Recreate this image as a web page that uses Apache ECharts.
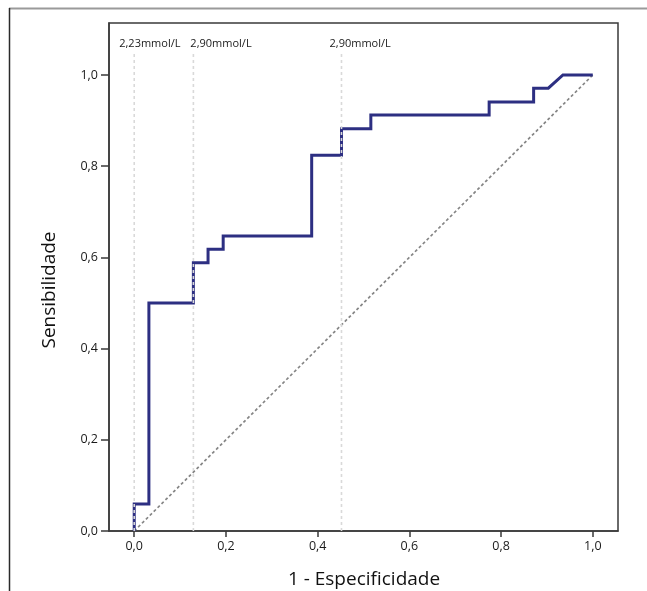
<!DOCTYPE html>
<html>
<head>
<meta charset="utf-8">
<script src="https://cdn.jsdelivr.net/npm/echarts@6/dist/echarts.min.js"></script>
<style>
html,body{margin:0;padding:0;background:#fff;}
#c{width:647px;height:591px;}
</style>
</head>
<body>
<div id="c"></div>
<script>
// ROC curve vertices (1 - Especificidade, Sensibilidade)
const fpr = [0, 0, 0.032, 0.032, 0.129, 0.129, 0.161, 0.161, 0.194, 0.194, 0.387, 0.387, 0.452, 0.452, 0.516, 0.516, 0.774, 0.774, 0.871, 0.871, 0.903, 0.935, 1];
const tpr = [0, 0.059, 0.059, 0.5, 0.5, 0.588, 0.588, 0.618, 0.618, 0.647, 0.647, 0.824, 0.824, 0.882, 0.882, 0.912, 0.912, 0.941, 0.941, 0.971, 0.971, 1, 1];
// Reference (diagonal) line
const diagX = [0, 1];
const diagY = [0, 1];
// Cut-off reference lines
const cutX = [0, 0.129, 0.452];
const cutLabels = ['2,23mmol/L', '2,90mmol/L', '2,90mmol/L'];
// Ticks
const tickValues = [0, 0.2, 0.4, 0.6, 0.8, 1.0];
const xTitle = '1 - Especificidade';
const yTitle = 'Sensibilidade';

const FONT = 'Open Sans';
const fmt = v => v.toFixed(1).replace('.', ',');

const chart = echarts.init(document.getElementById('c'), null, {renderer: 'canvas'});

const series = [];
series.push({
  type: 'line', name: 'diag', data: diagX.map((x, i) => [x, diagY[i]]),
  symbol: 'none', silent: true, z: 2,
  lineStyle: {color: '#858585', width: 1.7, type: [3, 2.5]}
});
series.push({
  type: 'line', name: 'roc', data: fpr.map((x, i) => [x, tpr[i]]),
  symbol: 'none', silent: true, z: 3,
  lineStyle: {color: '#2d2f82', width: 3, join: 'miter', cap: 'butt'}
});
cutX.forEach((x, i) => {
  series.push({
    type: 'line', name: 'cut' + i, data: [[x, 0], [x, 1.048]],
    symbol: 'none', silent: true, z: 4,
    lineStyle: {color: '#d9d9d9', width: 1.6, type: [3, 3]}
  });
});

const axisCommon = {
  type: 'value',
  axisLine: {show: true, onZero: false, lineStyle: {color: '#3a3a3a', width: 1.5}},
  splitLine: {show: false},
  axisTick: {show: true, customValues: tickValues, lineStyle: {color: '#3a3a3a', width: 1.5}},
  axisLabel: {customValues: tickValues, formatter: fmt, color: '#1a1a1a', fontSize: 12.5, fontFamily: FONT}
};

chart.setOption({
  animation: false,
  backgroundColor: '#fff',
  grid: {left: 109, right: 29, top: 23, bottom: 60, show: true, borderColor: '#3a3a3a', borderWidth: 1.5, backgroundColor: 'transparent'},
  xAxis: Object.assign({}, axisCommon, {
    min: -0.055, max: 1.055,
    axisTick: Object.assign({}, axisCommon.axisTick, {length: 6}),
    axisLabel: Object.assign({}, axisCommon.axisLabel, {margin: 9})
  }),
  yAxis: Object.assign({}, axisCommon, {
    min: 0, max: 1.114,
    axisTick: Object.assign({}, axisCommon.axisTick, {length: 8}),
    axisLabel: Object.assign({}, axisCommon.axisLabel, {margin: 11})
  }),
  series: series
});

// Outer frame, axis titles and cut-off labels
const labelOffsets = [-15, -3, -12];
const graphics = [
  {type: 'line', shape: {x1: 9, y1: 8.5, x2: 647, y2: 8.5}, style: {stroke: '#9a9a9a', lineWidth: 2}, silent: true},
  {type: 'line', shape: {x1: 9.5, y1: 8, x2: 9.5, y2: 591}, style: {stroke: '#2a2a2a', lineWidth: 1.5}, silent: true},
  {type: 'text', x: 364, y: 580, silent: true,
   style: {text: xTitle, fill: '#111', font: '19px "' + FONT + '"', align: 'center', verticalAlign: 'middle'}},
  {type: 'text', x: 50, y: 290, rotation: Math.PI / 2, silent: true,
   style: {text: yTitle, fill: '#111', font: '19px "' + FONT + '"', align: 'center', verticalAlign: 'middle'}}
];
cutX.forEach((x, i) => {
  const px = chart.convertToPixel({gridIndex: 0}, [x, 0])[0];
  graphics.push({
    type: 'text', x: px + labelOffsets[i], y: 44, silent: true,
    style: {text: cutLabels[i], fill: '#1a1a1a', font: '11px "' + FONT + '"', align: 'left', verticalAlign: 'middle'}
  });
});
chart.setOption({graphic: graphics});
</script>
</body>
</html>
